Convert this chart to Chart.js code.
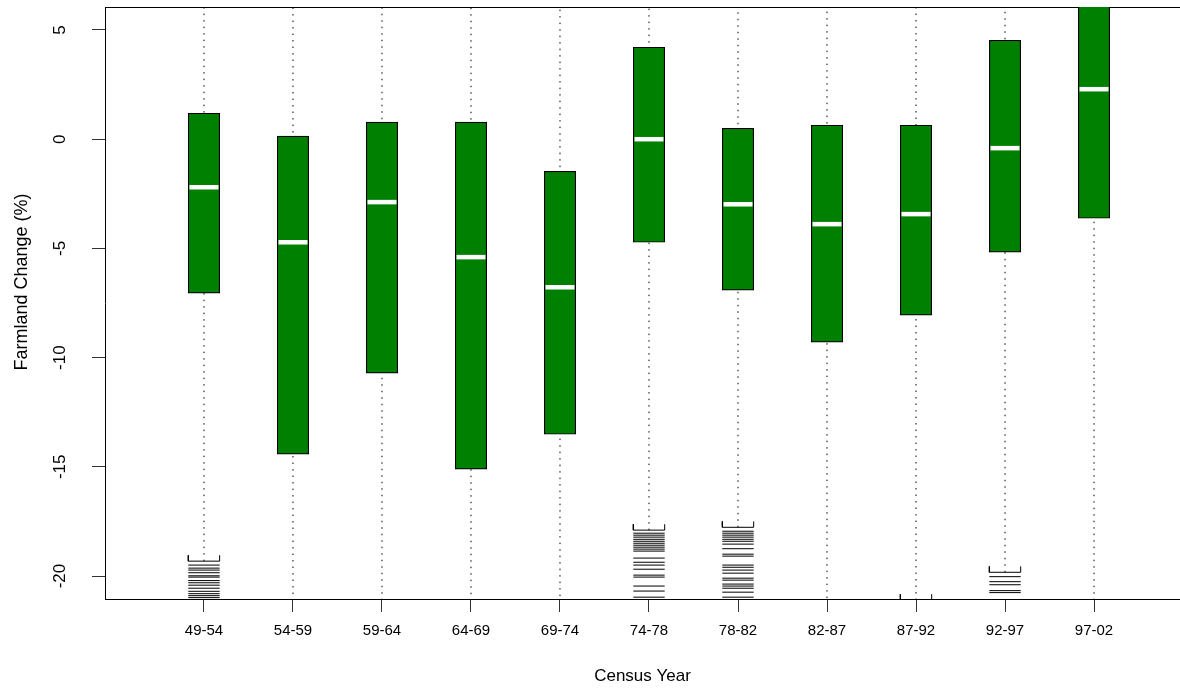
<!DOCTYPE html>
<html>
<head>
<meta charset="utf-8">
<title>Farmland Change by Census Year</title>
<script src="https://cdn.jsdelivr.net/npm/chart.js@4.4.1/dist/chart.umd.min.js"></script>
<style>
  html, body { margin:0; padding:0; background:#fff; }
  #wrap { width:1180px; height:689px; position:relative; }
</style>
</head>
<body>
<div id="wrap"><canvas id="chart"></canvas></div>
<script>
// census periods on the x axis
const periods = ['49-54','54-59','59-64','64-69','69-74','74-78','78-82','82-87','87-92','92-97','97-02'];
const yTicks = [-20, -15, -10, -5, 0, 5];

// box statistics (farmland change, %)
const boxLow    = [-7.05, -14.42, -10.71, -15.11, -13.51, -4.72, -6.91, -9.29, -8.06, -5.17, -3.62];
const boxMedian = [-2.2, -4.72, -2.88, -5.4, -6.78, 0, -2.98, -3.89, -3.43, -0.41, 2.29];
const boxHigh   = [1.19, 0.14, 0.78, 0.78, -1.47, 4.21, 0.5, 0.64, 0.64, 4.53, 7.6];

// whisker ends - most of them run off the plot
const whiskerHigh = [8.5, 7.9, 8.2, 9.1, 7.4, 11.2, 8.0, 8.6, 8.3, 11.5, 12.4];
const whiskerLow  = [-19.32, -24.1, -22.3, -25.0, -23.6, -17.9, -17.77, -22.8, -21.1, -19.83, -22.0];

// outliers below the lower whisker
const out4954 = [-19.5, -19.64, -19.73, -19.85, -19.99, -20.05, -20.21, -20.31, -20.42, -20.56, -20.7, -20.81, -20.9, -20.99];
const out7478 = [-18.04, -18.13, -18.22, -18.32, -18.41, -18.5, -18.59, -18.68, -18.77, -18.86, -19.18, -19.37, -19.5, -19.69, -19.96, -20.05, -20.46, -20.69, -20.97];
const out7882 = [-17.95, -18.04, -18.13, -18.22, -18.32, -18.41, -18.54, -18.75, -19.0, -19.09, -19.5, -19.6, -19.73, -19.87, -20.1, -20.19, -20.37, -20.46, -20.56, -20.74, -20.97];
const out9297 = [-20.03, -20.26, -20.4, -20.67, -20.76];
const outlierGroups = [['49-54', out4954], ['74-78', out7478], ['78-82', out7882], ['92-97', out9297]];

const FONT = "'Liberation Sans', Arial, sans-serif";
const BOX_PX = 31.4;          // box width in pixels
const HALF = 0.176;           // half box width in x units
const SERIF = 0.27;           // height of the cap ends in y units

const pos = i => i + 1;

// whiskers: one segment per period, gaps between
const whiskerData = [];
periods.forEach((p, i) => {
  whiskerData.push({x: pos(i), y: whiskerLow[i]}, {x: pos(i), y: whiskerHigh[i]}, {x: pos(i), y: null});
});

// lower caps, small bracket opening upwards
const capData = [];
periods.forEach((p, i) => {
  const c = whiskerLow[i], x = pos(i);
  capData.push({x: x - HALF, y: c + SERIF}, {x: x - HALF, y: c}, {x: x + HALF, y: c}, {x: x + HALF, y: c + SERIF}, {x: x, y: null});
});

const boxData = periods.map((p, i) => ({x: pos(i), y: [boxLow[i], boxHigh[i]]}));
const medianData = periods.map((p, i) => ({x: pos(i), y: boxMedian[i]}));
const outlierData = [];
outlierGroups.forEach(([p, vals]) => {
  const x = pos(periods.indexOf(p));
  vals.forEach(v => outlierData.push({x: x, y: v}));
});

// no label overflow padding, the plot frame is fixed
function noPad(s){ s.paddingTop = 0; s.paddingBottom = 0; s.paddingLeft = 0; s.paddingRight = 0; }

// y title sits a bit above the middle of the frame, as in the original
const yTitle = {
  id: 'yTitle',
  afterDraw(chart){
    const ctx = chart.ctx;
    ctx.save();
    ctx.translate(22, 282);
    ctx.rotate(-Math.PI / 2);
    ctx.font = '18px ' + FONT;
    ctx.fillStyle = '#000';
    ctx.textAlign = 'center';
    ctx.textBaseline = 'middle';
    ctx.fillText('Farmland Change (%)', 0, 0);
    ctx.restore();
  }
};

new Chart(document.getElementById('chart'), {
  type: 'bar',
  data: {
    datasets: [
      {
        type: 'line', data: whiskerData, order: 5, clip: 0,
        borderColor: '#000', borderWidth: 1, borderDash: [1.5, 5],
        pointRadius: 0, spanGaps: false, tension: 0
      },
      {
        type: 'line', data: capData, order: 4, clip: 0,
        borderColor: '#000', borderWidth: 1,
        pointRadius: 0, spanGaps: false, tension: 0
      },
      {
        type: 'bar', data: boxData, order: 3, clip: 0,
        backgroundColor: '#008000', borderColor: '#000', borderWidth: 1.2,
        borderSkipped: false, barThickness: BOX_PX
      },
      {
        type: 'scatter', data: outlierData, order: 2, clip: 0,
        pointStyle: 'line', pointRadius: BOX_PX / 2, pointBorderColor: '#000', pointBorderWidth: 1
      },
      {
        type: 'scatter', data: medianData, order: 1, clip: 0,
        pointStyle: 'line', pointRadius: BOX_PX / 2 - 1.2, pointBorderColor: '#fff', pointBorderWidth: 4.5
      }
    ]
  },
  options: {
    responsive: true,
    maintainAspectRatio: false,
    animation: false,
    layout: { autoPadding: false, padding: { top: 7, right: 0, bottom: 0, left: 0 } },
    plugins: { legend: { display: false }, tooltip: { enabled: false } },
    scales: {
      x: {
        type: 'linear', position: 'bottom', offset: false,
        min: -0.112, max: 11.966,
        afterBuildTicks: s => { s.ticks = periods.map((p, i) => ({value: pos(i)})); },
        afterFit: s => { s.height = 90; noPad(s); },
        ticks: {
          autoSkip: false, minRotation: 0, maxRotation: 0, padding: 10,
          color: '#000', font: { family: FONT, size: 15 },
          callback: v => periods[v - 1]
        },
        grid: { display: true, offset: false, drawOnChartArea: false, drawTicks: true, tickLength: 13, color: '#333', lineWidth: 1 },
        border: { display: true, color: '#000', width: 1 },
        title: { display: true, text: 'Census Year', color: '#000', font: { family: FONT, size: 17 }, padding: { top: 0, bottom: 2 } }
      },
      x2: {
        type: 'linear', position: 'top', offset: false,
        min: -0.112, max: 11.966,
        afterFit: s => { s.height = 0; noPad(s); },
        ticks: { display: false },
        grid: { display: false },
        border: { display: true, color: '#000', width: 1 }
      },
      y: {
        type: 'linear', position: 'left',
        min: -21.053, max: 6.053,
        afterBuildTicks: s => { s.ticks = yTicks.map(v => ({value: v})); },
        afterFit: s => { s.width = 105; noPad(s); },
        ticks: {
          minRotation: 90, maxRotation: 90, crossAlign: 'center', padding: 19,
          color: '#000', font: { family: FONT, size: 17 }
        },
        grid: { display: true, drawOnChartArea: false, drawTicks: true, tickLength: 13, color: '#333', lineWidth: 1 },
        border: { display: true, color: '#000', width: 1 },
        title: { display: false }
      }
    }
  },
  plugins: [yTitle]
});
</script>
</body>
</html>
